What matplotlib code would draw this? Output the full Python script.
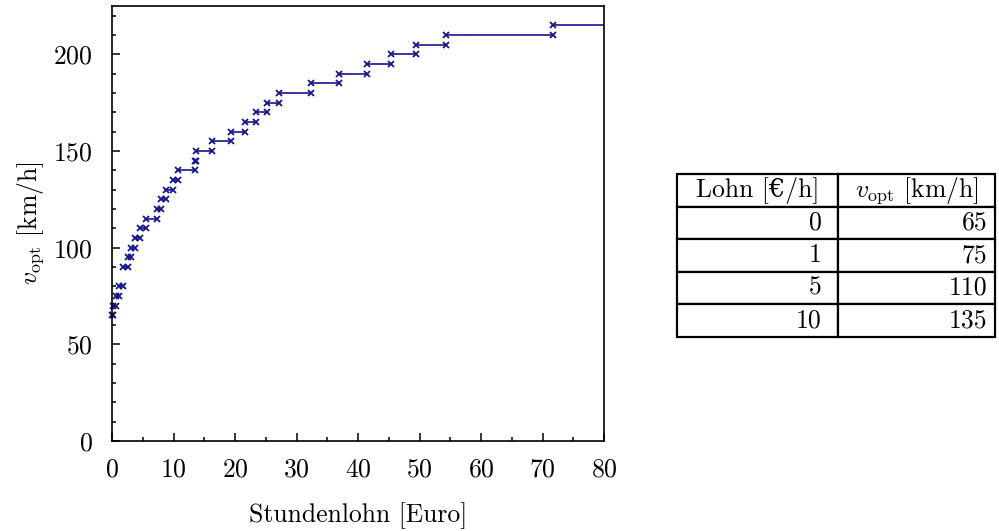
import matplotlib
matplotlib.use('Agg')
import matplotlib.pyplot as plt

plt.rcParams['font.family'] = ['cmr10', 'DejaVu Serif']
plt.rcParams['mathtext.fontset'] = 'cm'
plt.rcParams['axes.formatter.use_mathtext'] = True

# optimale Geschwindigkeit je Lohnbereich
levels = [65, 70, 75, 80, 90, 95, 100, 105, 110, 115, 120, 125, 130, 135, 140,
          145, 150, 155, 160, 165, 170, 175, 180, 185, 190, 195, 200, 205, 210, 215]
wage_from = [0, 0.15, 0.65, 1.15, 1.75, 2.55, 3.05, 3.7, 4.6, 5.45, 7.25, 7.95,
             8.8, 9.85, 10.75, 13.55, 13.65, 16.3, 19.4, 21.65, 23.45, 25.15,
             27.2, 32.3, 36.9, 41.5, 45.3, 49.4, 54.3, 71.7]
wage_to = wage_from[1:] + [95]

# Tabelle
tab_lohn = ['0', '1', '5', '10']
tab_v = ['65', '75', '110', '135']
tab_header = ['Lohn [€/h]', r'$v_{\mathrm{opt}}$ [km/h]']

col = '#16168c'
fs = 18.5

fig = plt.figure(figsize=(9.99, 5.31), dpi=100)
ax = fig.add_axes([112 / 999, 90 / 531, 492 / 999, 435 / 531])

for v, a, b in zip(levels, wage_from, wage_to):
    ax.plot([a, b], [v, v], color=col, lw=1.2)
ax.plot(wage_from + wage_to[:-1], levels + levels[:-1], 'x', color=col,
        ms=4, mew=1.3, clip_on=False)

ax.set_xlim(0, 80)
ax.set_ylim(0, 225)
ax.set_xticks(range(0, 81, 10))
ax.set_xticks(range(5, 80, 10), minor=True)
ax.set_yticks(range(0, 201, 50))
ax.set_yticks([v for v in range(10, 225, 10) if v % 50], minor=True)
ax.tick_params(which='both', direction='in', top=False, right=False,
               labelsize=fs, width=1.1)
ax.tick_params(which='major', length=6)
ax.tick_params(which='minor', length=3)
ax.tick_params(axis='y', pad=14)
ax.tick_params(axis='x', pad=12)
for s in ax.spines.values():
    s.set_linewidth(1.2)

ax.set_xlabel('Stundenlohn [Euro]', fontsize=fs, labelpad=15)
ax.set_ylabel(r'$v_{\mathrm{opt}}$ [km/h]', fontsize=fs, labelpad=5)

tax = fig.add_axes([677 / 999, 194 / 531, 318 / 999, 163 / 531])
tax.axis('off')
tbl = tax.table(cellText=[[a, b] for a, b in zip(tab_lohn, tab_v)],
                colLabels=tab_header, bbox=[0, 0, 1, 1],
                colWidths=[0.506, 0.494])
tbl.auto_set_font_size(False)
tbl.set_fontsize(fs)
for (r, c), cell in tbl.get_celld().items():
    cell.set_linewidth(1.6)
    if r == 0:
        cell._loc = 'center'
        cell.get_text().set_ha('center')
    else:
        cell._loc = 'right'
        cell.get_text().set_ha('right')
        if c == 1:
            cell.PAD = 0.05

fig.savefig('out.png', dpi=100)
